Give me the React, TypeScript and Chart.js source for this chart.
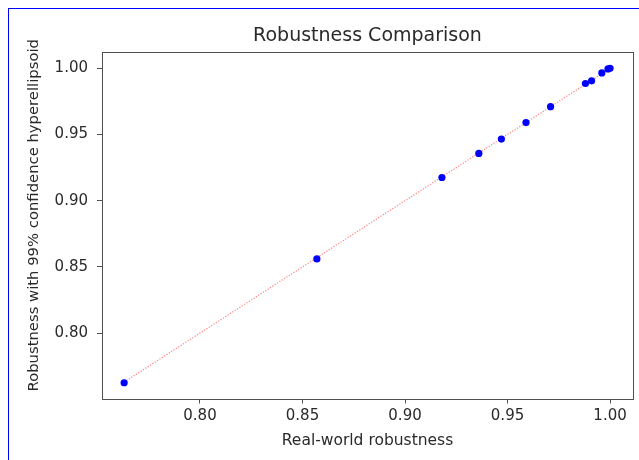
import React, { useEffect, useRef } from "react";
import { Chart, registerables } from "chart.js";

Chart.register(...registerables);

const realWorld = [0.763, 0.857, 0.918, 0.936, 0.947, 0.959, 0.971, 0.988, 0.991, 0.996, 0.999, 1.0];
const hyperellipsoid = [0.7625, 0.856, 0.9175, 0.9357, 0.9465, 0.959, 0.971, 0.9885, 0.9905, 0.9965, 0.9995, 1.0];
const lineX = [0.763, 1.0];
const lineY = [0.763, 1.0];
const xTicks = [0.8, 0.85, 0.9, 0.95, 1.0];
const yTicks = [0.8, 0.85, 0.9, 0.95, 1.0];
const yTitle = "Robustness with 99% confidence hyperellipsoid";

const FONT = "'DejaVu Sans', sans-serif";
const TEXT = "#2a2a2a";
const AXIS = "#505050";

const framePlugin = {
  id: "frame",
  afterDraw(chart: any) {
    const { ctx, chartArea } = chart;
    ctx.save();
    ctx.strokeStyle = AXIS;
    ctx.lineWidth = 1;
    ctx.strokeRect(
      Math.round(chartArea.left) + 0.5,
      Math.round(chartArea.top) + 0.5,
      Math.round(chartArea.right - chartArea.left),
      Math.round(chartArea.bottom - chartArea.top)
    );
    // y-axis title, placed like the reference
    ctx.translate(25.5, (chartArea.top + chartArea.bottom) / 2 - 10);
    ctx.rotate(-Math.PI / 2);
    ctx.fillStyle = TEXT;
    ctx.font = `14.8px ${FONT}`;
    ctx.textAlign = "center";
    ctx.textBaseline = "middle";
    ctx.fillText(yTitle, 0, 0);
    ctx.restore();
  },
};

export default function App() {
  const ref = useRef<HTMLCanvasElement>(null);
  useEffect(() => {
    if (!ref.current) return;
    const chart = new Chart(ref.current, {
      type: "scatter",
      data: {
        datasets: [
          {
            label: "points",
            data: realWorld.map((x, i) => ({ x, y: hyperellipsoid[i] })),
            backgroundColor: "#0000ff",
            borderColor: "#0000ff",
            borderWidth: 0,
            pointRadius: 3.6,
            order: 0,
          },
          {
            label: "identity",
            data: lineX.map((x, i) => ({ x, y: lineY[i] })),
            showLine: true,
            borderColor: "rgba(255,0,0,0.5)",
            borderWidth: 1.2,
            borderDash: [1.2, 1.6],
            pointRadius: 0,
            order: 1,
          } as any,
        ],
      },
      options: {
        animation: false,
        responsive: false,
        devicePixelRatio: 1,
        layout: { padding: { left: 0, right: 6, top: 0, bottom: 0 } },
        plugins: {
          legend: { display: false },
          tooltip: { enabled: false },
          title: {
            display: true,
            text: "Robustness Comparison",
            color: TEXT,
            font: { family: FONT, size: 19, weight: "normal" },
            padding: { top: 15.7, bottom: 4.5 },
            fullSize: false,
          },
        },
        scales: {
          x: {
            type: "linear",
            min: 0.7522,
            max: 1.0112,
            afterBuildTicks: (s: any) => {
              s.ticks = xTicks.map((v) => ({ value: v }));
            },
            afterFit: (s: any) => {
              s.height = 61.5;
            },
            ticks: {
              color: TEXT,
              font: { family: FONT, size: 15 },
              padding: 4,
              callback: (v: any) => Number(v).toFixed(2),
            },
            grid: { drawOnChartArea: false, drawTicks: true, tickLength: 5, color: AXIS },
            border: { display: false },
            title: {
              display: true,
              text: "Real-world robustness",
              color: TEXT,
              font: { family: FONT, size: 15.5 },
              padding: { top: 0, bottom: 9.7 },
            },
          },
          y: {
            type: "linear",
            min: 0.7506,
            max: 1.0123,
            afterBuildTicks: (s: any) => {
              s.ticks = yTicks.map((v) => ({ value: v }));
            },
            afterFit: (s: any) => {
              s.width = 93;
            },
            ticks: {
              color: TEXT,
              font: { family: FONT, size: 15 },
              padding: 9,
              callback: (v: any) => Number(v).toFixed(2),
            },
            grid: { drawOnChartArea: false, drawTicks: true, tickLength: 5, color: AXIS },
            border: { display: false },
            title: { display: false },
          },
        },
      } as any,
      plugins: [framePlugin],
    });
    return () => chart.destroy();
  }, []);

  return (
    <div
      style={{
        position: "fixed",
        left: 8,
        top: 8,
        width: 631,
        height: 452,
        borderLeft: "1px solid #0000ff",
        borderTop: "1px solid #0000ff",
        background: "#ffffff",
      }}
    >
      <canvas ref={ref} width={630} height={451} style={{ display: "block", width: 630, height: 451 }} />
    </div>
  );
}
